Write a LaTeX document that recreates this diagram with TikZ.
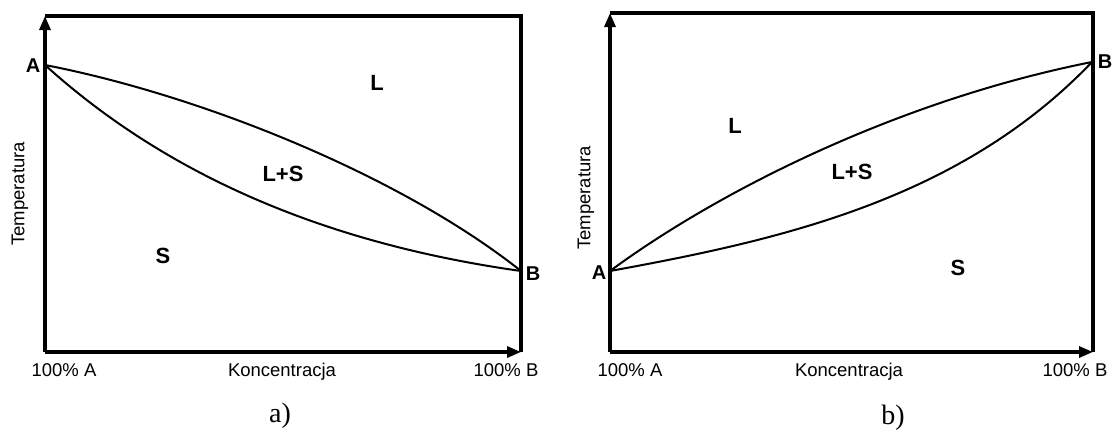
\documentclass[tikz,border=0pt]{standalone}
\usepackage{fontspec}
\setmainfont{Liberation Serif}
\setsansfont{Liberation Sans}
\usetikzlibrary{arrows.meta}
\begin{document}
\begin{tikzpicture}[x=1pt,y=-1pt,
  axis/.style={line width=3.2pt},
  axisarrow/.style={line width=3.2pt,-{Triangle[length=14pt,width=11pt]}},
  curveline/.style={line width=2pt},
  txt/.style={font=\sffamily\fontsize{18.5}{22}\selectfont,inner sep=0pt},
  xlab/.style={txt,anchor=base},
  region/.style={font=\sffamily\bfseries\fontsize{22}{26}\selectfont,inner sep=0pt},
  ptlabel/.style={font=\sffamily\bfseries\fontsize{20}{24}\selectfont,inner sep=0pt},
  captionlabel/.style={font=\rmfamily\fontsize{28}{32}\selectfont,inner sep=0pt,anchor=base}]
\useasboundingbox (0,0) rectangle (1113,434);
% ---------- panel a ----------
\coordinate (aO) at (45,352);
\coordinate (aTL) at (45,16);
\coordinate (aTR) at (521,16);
\coordinate (aBR) at (521,352);
\coordinate (aA) at (45,65);
\coordinate (aB) at (521,271);
\draw[axis] (aTL) -- (aTR) -- (aBR);
\draw[axisarrow] (aO) -- (aTL);
\draw[axisarrow] (aO) -- (aBR);
\draw[curveline] (aA) .. controls (200,95) and (400,175) .. (aB);
\draw[curveline] (aA) .. controls (150,160) and (300,240) .. (aB);
\node[ptlabel] (aAl) at (33,66) {A};
\node[ptlabel] (aBl) at (533,274) {B};
\node[region] (aL) at (377,83) {L};
\node[region] (aLS) at (283,174) {L+S};
\node[region] (aS) at (163,256) {S};
\node[txt,rotate=90] (aT) at (20,194) {Temperatura};
\node[xlab] (aX0) at (64,376) {100\% A};
\node[xlab] (aXK) at (282,376) {Koncentracja};
\node[xlab] (aX1) at (506,376) {100\% B};
\node[captionlabel] (acap) at (280,422) {a)};
% ---------- panel b ----------
\coordinate (bO) at (610,352);
\coordinate (bTL) at (610,13);
\coordinate (bTR) at (1093,13);
\coordinate (bBR) at (1093,352);
\coordinate (bA) at (610,271);
\coordinate (bB) at (1092,62);
\draw[axis] (bTL) -- (bTR) -- (bBR);
\draw[axisarrow] (bO) -- (bTL);
\draw[axisarrow] (bO) -- (bBR);
\draw[curveline] (bA) .. controls (720,190) and (900,100) .. (bB);
\draw[curveline] (bA) .. controls (780,240) and (960,200) .. (bB);
\node[ptlabel] (bAl) at (599,273) {A};
\node[ptlabel] (bBl) at (1105,62) {B};
\node[region] (bL) at (735,126) {L};
\node[region] (bLS) at (852,172) {L+S};
\node[region] (bS) at (958,268) {S};
\node[txt,rotate=90] (bT) at (586,198) {Temperatura};
\node[xlab] (bX0) at (630,376) {100\% A};
\node[xlab] (bXK) at (849,376) {Koncentracja};
\node[xlab] (bX1) at (1075,376) {100\% B};
\node[captionlabel] (bcap) at (893,424) {b)};
\end{tikzpicture}
\end{document}
